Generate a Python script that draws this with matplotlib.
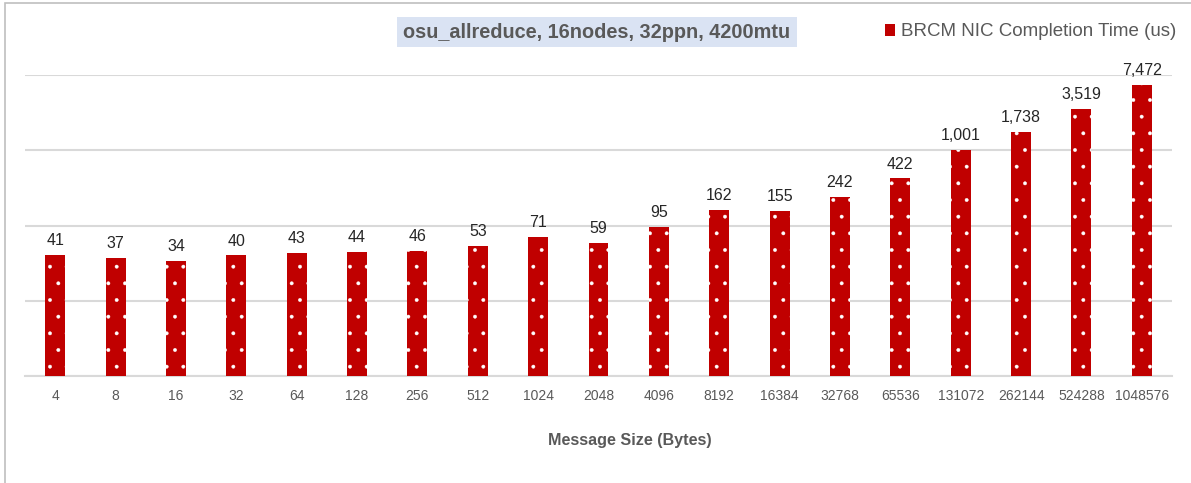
import matplotlib.pyplot as plt
import matplotlib.patches as mpatches
import numpy as np

plt.rcParams['font.family'] = ['Liberation Sans', 'DejaVu Sans']
plt.rcParams['hatch.linewidth'] = 0.3

# Message sizes (bytes) and completion time (us)
sizes = ['4', '8', '16', '32', '64', '128', '256', '512', '1024', '2048', '4096',
         '8192', '16384', '32768', '65536', '131072', '262144', '524288', '1048576']
times = [41, 37, 34, 40, 43, 44, 46, 53, 71, 59, 95,
         162, 155, 242, 422, 1001, 1738, 3519, 7472]

red = '#c00000'
gray_txt = '#595959'
grid_c = '#d9d9d9'

fig = plt.figure(figsize=(11.91, 4.83), dpi=100)
ax = fig.add_axes([25 / 1191, 1 - 376 / 483, (1172 - 25) / 1191, (376 - 75) / 483])

x = np.arange(len(sizes))
bars = ax.bar(x, times, width=0.33, color=red, edgecolor='white', hatch='.',
              linewidth=0, zorder=3)

ax.set_yscale('log')
ax.set_ylim(1, 10000)
ax.set_xlim(-0.5, len(sizes) - 0.5)
ax.set_yticks([1, 10, 100, 1000, 10000])
ax.set_yticklabels([])
ax.minorticks_off()
ax.tick_params(axis='y', length=0)
ax.yaxis.grid(True, color=grid_c, linewidth=1.5, zorder=0)
for s in ['top', 'right', 'left']:
    ax.spines[s].set_visible(False)
ax.spines['bottom'].set_color(grid_c)
ax.spines['bottom'].set_linewidth(1.5)

ax.set_xticks(x)
ax.set_xticklabels(sizes, fontsize=10, color=gray_txt)
ax.tick_params(axis='x', length=0, pad=9)

for xi, v in zip(x, times):
    ax.annotate(f'{v:,}', (xi, v), xytext=(0, 5), textcoords='offset points',
                ha='center', va='bottom', fontsize=11.5, color='#262626')

# Title with light blue background
fig.text(597 / 1191, 1 - 32 / 483, 'osu_allreduce, 16nodes, 32ppn, 4200mtu',
         ha='center', va='center', fontsize=14.3, fontweight='bold', color=gray_txt,
         bbox=dict(boxstyle='square,pad=0.3', facecolor='#dae3f3', edgecolor='none'))

# Legend
handle = mpatches.Patch(facecolor=red, edgecolor='none', label='BRCM NIC Completion Time (us)')
fig.legend(handles=[handle], loc='center left', bbox_to_anchor=(885 / 1191, 1 - 32 / 483),
           frameon=False, fontsize=13.5, handlelength=0.55, handleheight=0.55,
           handletextpad=0.3, labelcolor=gray_txt, borderpad=0, borderaxespad=0)

fig.text(630 / 1191, 1 - 440 / 483, 'Message Size (Bytes)', ha='center', va='center',
         fontsize=11.6, fontweight='bold', color=gray_txt)

# Outer chart border
fig.patches.append(mpatches.Rectangle((5 / 1191, -1), 2, 2 - 3 / 483,
                                      transform=fig.transFigure, fill=False,
                                      edgecolor='#bfbfbf', linewidth=1.2))

fig.savefig('out.png', dpi=100)
